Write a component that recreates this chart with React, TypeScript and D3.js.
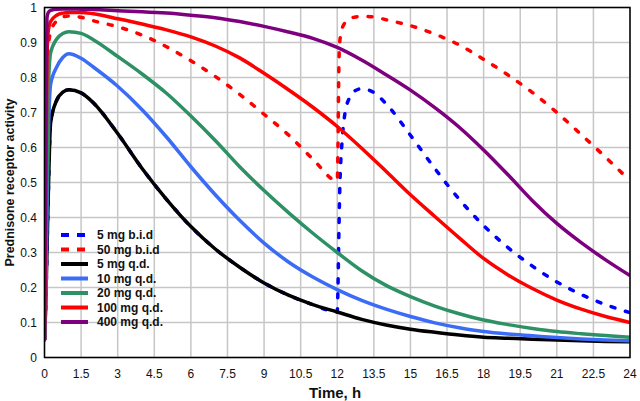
import React from "react";
import * as d3 from "d3";

const tQD = [0, 0.05, 0.1, 0.15, 0.25, 0.5, 0.75, 1, 1.5, 2, 3, 4, 5, 6, 7, 8, 9, 10, 11, 12, 13, 14, 15, 16, 17, 18, 19, 20, 21, 22, 23, 24];
const tBID = [0, 0.05, 0.1, 0.15, 0.25, 0.5, 0.75, 1, 1.5, 2, 3, 4, 5, 6, 7, 8, 9, 10, 11, 12, 12.03, 12.06, 12.1, 12.2, 12.3, 12.5, 12.75, 13, 13.5, 14, 15, 16, 17, 18, 19, 20, 21, 22, 23, 24];

const bid5 = [0.05, 0.15, 0.3, 0.45, 0.67, 0.735, 0.758, 0.765, 0.756, 0.728, 0.64, 0.54, 0.452, 0.374, 0.31, 0.258, 0.213, 0.178, 0.151, 0.13, 0.2, 0.33, 0.47, 0.62, 0.69, 0.742, 0.763, 0.768, 0.757, 0.725, 0.635, 0.54, 0.452, 0.377, 0.314, 0.261, 0.216, 0.18, 0.151, 0.128];
const bid50 = [0.05, 0.35, 0.75, 0.88, 0.93, 0.962, 0.973, 0.976, 0.972, 0.962, 0.945, 0.921, 0.888, 0.848, 0.803, 0.752, 0.695, 0.636, 0.567, 0.505, 0.6, 0.8, 0.9, 0.94, 0.955, 0.968, 0.973, 0.975, 0.973, 0.965, 0.948, 0.924, 0.893, 0.852, 0.807, 0.757, 0.7, 0.637, 0.572, 0.505];
const qd5 = [0.05, 0.15, 0.3, 0.45, 0.67, 0.735, 0.758, 0.765, 0.756, 0.728, 0.64, 0.54, 0.452, 0.374, 0.31, 0.258, 0.213, 0.178, 0.151, 0.13, 0.109, 0.093, 0.081, 0.072, 0.064, 0.058, 0.055, 0.052, 0.05, 0.048, 0.046, 0.045];
const qd10 = [0.05, 0.15, 0.4, 0.6, 0.78, 0.83, 0.857, 0.868, 0.855, 0.83, 0.775, 0.708, 0.63, 0.545, 0.465, 0.392, 0.327, 0.273, 0.23, 0.194, 0.163, 0.138, 0.117, 0.099, 0.085, 0.074, 0.067, 0.062, 0.057, 0.053, 0.05, 0.048];
const qd20 = [0.05, 0.2, 0.5, 0.75, 0.87, 0.91, 0.926, 0.931, 0.926, 0.908, 0.86, 0.81, 0.755, 0.69, 0.62, 0.545, 0.477, 0.414, 0.355, 0.3, 0.248, 0.206, 0.174, 0.147, 0.125, 0.107, 0.094, 0.083, 0.074, 0.068, 0.063, 0.058];
const qd100 = [0.05, 0.4, 0.85, 0.93, 0.96, 0.978, 0.984, 0.986, 0.986, 0.982, 0.968, 0.953, 0.936, 0.916, 0.89, 0.856, 0.812, 0.765, 0.715, 0.66, 0.598, 0.532, 0.465, 0.403, 0.342, 0.283, 0.236, 0.197, 0.164, 0.138, 0.117, 0.1];
const qd400 = [0.05, 0.6, 0.97, 0.985, 0.992, 0.995, 0.996, 0.996, 0.995, 0.994, 0.991, 0.988, 0.984, 0.978, 0.971, 0.96, 0.946, 0.93, 0.912, 0.886, 0.85, 0.808, 0.764, 0.714, 0.658, 0.593, 0.522, 0.448, 0.383, 0.328, 0.279, 0.234];

const seriesNames = ["5 mg b.i.d", "50 mg b.i.d", "5 mg q.d.", "10 mg q.d.", "20 mg q.d.", "100 mg q.d.", "400 mg q.d."];
const xTicks = [0, 1.5, 3, 4.5, 6, 7.5, 9, 10.5, 12, 13.5, 15, 16.5, 18, 19.5, 21, 22.5, 24];
const yTicks = [0, 0.1, 0.2, 0.3, 0.4, 0.5, 0.6, 0.7, 0.8, 0.9, 1];

const series = [
  { name: seriesNames[0], t: tBID, v: bid5, color: "#0000ff", dashed: true },
  { name: seriesNames[1], t: tBID, v: bid50, color: "#ff0000", dashed: true },
  { name: seriesNames[2], t: tQD, v: qd5, color: "#000000", dashed: false },
  { name: seriesNames[3], t: tQD, v: qd10, color: "#3b6cf5", dashed: false },
  { name: seriesNames[4], t: tQD, v: qd20, color: "#2e9165", dashed: false },
  { name: seriesNames[5], t: tQD, v: qd100, color: "#ff0000", dashed: false },
  { name: seriesNames[6], t: tQD, v: qd400, color: "#7f007f", dashed: false },
];

const W = 640, H = 401;
const L = 44.5, R = 630, T = 7.5, B = 357.5;
const FONT = "'Liberation Sans', Arial, sans-serif";

export default function App() {
  const x = d3.scaleLinear().domain([0, 24]).range([L, R]);
  const y = d3.scaleLinear().domain([0, 1]).range([B, T]);
  const line = d3.line<[number, number]>().x(d => x(d[0])).y(d => y(d[1])).curve(d3.curveMonotoneX);

  return (
    <svg width={W} height={H} style={{ position: "absolute", left: 0, top: 0, background: "#fff" }} fontFamily={FONT}>
      <defs>
        <clipPath id="plot"><rect x={L} y={T - 2} width={R - L} height={B - T + 2} /></clipPath>
      </defs>
      <rect x={0} y={0} width={W} height={H} fill="#fff" />
      {xTicks.map(t => (
        <line key={"gx" + t} x1={x(t)} x2={x(t)} y1={T} y2={B} stroke="#c6c6c6" strokeWidth={1.5} />
      ))}
      {yTicks.map(t => (
        <line key={"gy" + t} x1={L} x2={R} y1={y(t)} y2={y(t)} stroke="#c6c6c6" strokeWidth={1.5} />
      ))}
      <g clipPath="url(#plot)">
        {series.map(s => (
          <path key={s.name} d={line(s.t.map((t, i) => [t, s.v[i]] as [number, number])) || ""}
            fill="none" stroke={s.color} strokeWidth={3.5}
            strokeDasharray={s.dashed ? "4 11" : undefined}
            strokeLinecap={s.dashed ? "round" : "butt"} strokeLinejoin="round" />
        ))}
      </g>
      <rect x={L} y={T} width={R - L} height={B - T} fill="none" stroke="#000" strokeWidth={1.5} />
      {yTicks.map(t => (
        <text key={"ty" + t} x={37} y={y(t)} dy="0.35em" textAnchor="end" fontSize={12} fill="#111">{d3.format("~g")(t)}</text>
      ))}
      {xTicks.map(t => (
        <text key={"tx" + t} x={x(t)} y={377.5} textAnchor="middle" fontSize={12} fill="#111">{String(t)}</text>
      ))}
      <text x={335} y={398} textAnchor="middle" fontSize={15} fontWeight="bold" fill="#111">Time, h</text>
      <text transform={`translate(14,${(T + B) / 2}) rotate(-90)`} textAnchor="middle" fontSize={12.5} fontWeight="bold" fill="#111">Prednisone receptor activity</text>
      {series.map((s, i) => {
        const ly = 235 + i * 14.5;
        return (
          <g key={"lg" + s.name}>
            <line x1={61} x2={88} y1={ly} y2={ly} stroke={s.color} strokeWidth={4}
              strokeDasharray={s.dashed ? "8 8" : undefined} />
            <text x={97} y={ly} dy="0.35em" fontSize={12} fontWeight="bold" fill="#111">{s.name}</text>
          </g>
        );
      })}
    </svg>
  );
}
